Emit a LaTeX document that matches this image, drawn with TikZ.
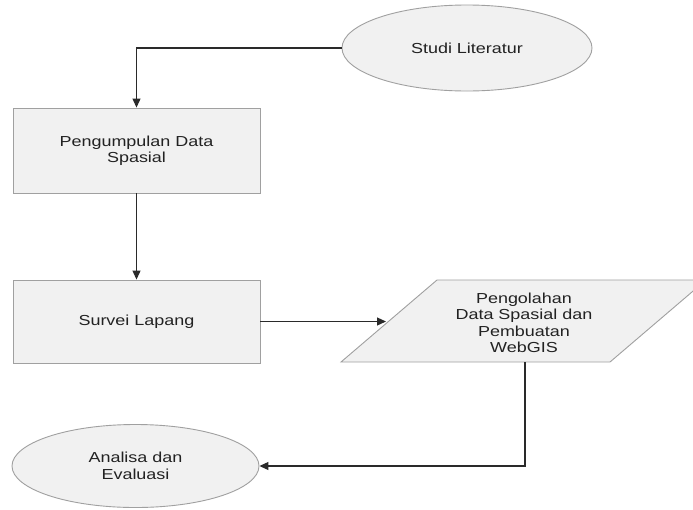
\documentclass[tikz,border=0pt]{standalone}
\usepackage{fontspec}
\setmainfont[FakeStretch=1.24]{Liberation Sans}
\usetikzlibrary{arrows.meta,shapes.geometric}
\definecolor{shapefill}{HTML}{F1F1F1}
\definecolor{shapeline}{HTML}{A0A0A0}
\definecolor{txt}{HTML}{222222}
\definecolor{conn}{HTML}{2A2A2A}
\begin{document}
\begin{tikzpicture}[x=1pt,y=-1pt,
  base/.style={fill=shapefill,draw=shapeline,line width=0.9pt,text=txt,align=center,
    font=\fontsize{14.5pt}{16.5pt}\selectfont,inner sep=0pt},
  oval/.style={base,ellipse},
  proc/.style={base,rectangle},
  label/.style={text=txt,align=center,font=\fontsize{14.5pt}{16.5pt}\selectfont,inner sep=0pt},
  conn/.style={draw=conn,line width=1.1pt,-{Triangle[length=9pt,width=8pt]}}]
\useasboundingbox[fill=white] (0,0) rectangle (693,509);
% shapes
\node[oval,minimum width=250pt,minimum height=86pt] (studi) at (467,48) {Studi Literatur};
\node[proc,minimum width=247pt,minimum height=85pt] (kumpul) at (136.5,150.5) {Pengumpulan Data\\Spasial};
\node[proc,minimum width=247pt,minimum height=83pt] (survei) at (136.5,321.5) {Survei Lapang};
\coordinate (pbl) at (341,362);
\coordinate (ptl) at (437,280);
\coordinate (ptr) at (706,280);
\coordinate (pbr) at (610,362);
\draw[fill=shapefill,draw=shapeline,line width=0.9pt] (pbl) -- (ptl) -- (ptr) -- (pbr) -- cycle;
\node[label] (olah) at (524,323) {Pengolahan\\Data Spasial dan\\Pembuatan\\WebGIS};
\coordinate (pin) at (386,321.5);
\coordinate (pout) at (525,362);
\node[oval,minimum width=247pt,minimum height=83pt] (analisa) at (135.5,466) {Analisa dan\\Evaluasi};
% connectors
\draw[conn] (studi.west) -| (kumpul.north);
\draw[conn] (kumpul.south) -- (survei.north);
\draw[conn] (survei.east) -- (pin);
\draw[conn] (pout) |- (analisa.east);
\end{tikzpicture}
\end{document}
